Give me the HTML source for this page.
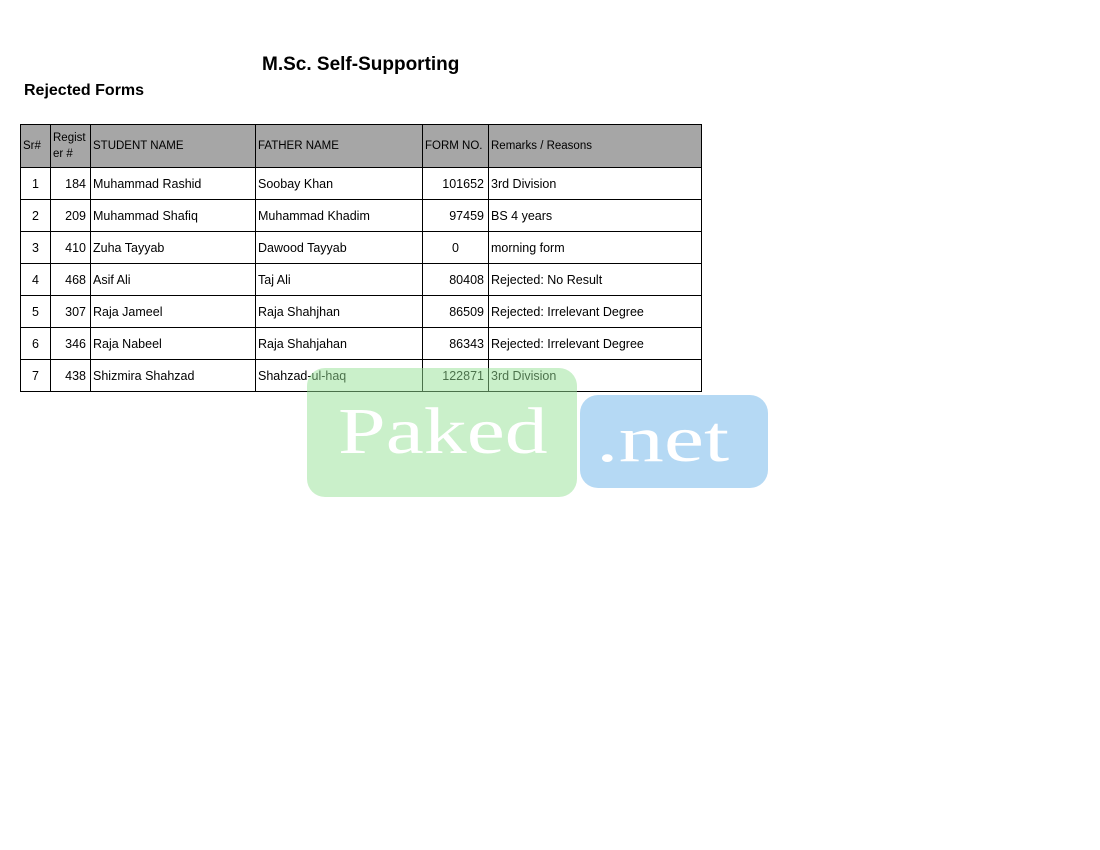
<!DOCTYPE html>
<html><head><style>
body{margin:0;width:1100px;height:850px;background:#fff;position:relative;font-family:"Liberation Sans",sans-serif;overflow:hidden}
.t{position:absolute;white-space:nowrap}
table{position:absolute;left:20px;top:124px;border-collapse:collapse;font-size:12.5px;color:#000}
td{border:1.5px solid #000;padding:0 2px;height:31px;white-space:nowrap}
tr.h td{background:#a6a6a6;height:42px;font-size:11.5px}
.r{text-align:right;padding-right:4px}
.c{text-align:center}
</style></head><body>
<div class="t" style="left:262px;top:54px;font-size:19px;font-weight:bold">M.Sc. Self-Supporting</div>
<div class="t" style="left:24px;top:82px;font-size:16px;font-weight:bold">Rejected Forms</div>
<table>
<colgroup><col style="width:30px"><col style="width:40px"><col style="width:165px"><col style="width:167px"><col style="width:66px"><col style="width:213px"></colgroup>
<tr class="h"><td>Sr#</td><td style="line-height:16px">Regist<br>er #</td><td>STUDENT NAME</td><td>FATHER NAME</td><td>FORM NO.</td><td>Remarks / Reasons</td></tr>
<tr><td class="c">1</td><td class="r">184</td><td>Muhammad Rashid</td><td>Soobay Khan</td><td class="r">101652</td><td>3rd Division</td></tr>
<tr><td class="c">2</td><td class="r">209</td><td>Muhammad Shafiq</td><td>Muhammad Khadim</td><td class="r">97459</td><td>BS 4 years</td></tr>
<tr><td class="c">3</td><td class="r">410</td><td>Zuha Tayyab</td><td>Dawood Tayyab</td><td class="c">0</td><td>morning form</td></tr>
<tr><td class="c">4</td><td class="r">468</td><td>Asif Ali</td><td>Taj Ali</td><td class="r">80408</td><td>Rejected: No Result</td></tr>
<tr><td class="c">5</td><td class="r">307</td><td>Raja Jameel</td><td>Raja Shahjhan</td><td class="r">86509</td><td>Rejected: Irrelevant Degree</td></tr>
<tr><td class="c">6</td><td class="r">346</td><td>Raja Nabeel</td><td>Raja Shahjahan</td><td class="r">86343</td><td>Rejected: Irrelevant Degree</td></tr>
<tr><td class="c">7</td><td class="r">438</td><td>Shizmira Shahzad</td><td>Shahzad-ul-haq</td><td class="r">122871</td><td>3rd Division</td></tr>
</table>
<div style="position:absolute;left:307px;top:368px;width:270px;height:129px;background:rgba(150,225,150,0.5);border-radius:18px"></div>
<div style="position:absolute;left:580px;top:395px;width:188px;height:93px;background:rgba(120,185,235,0.55);border-radius:18px"></div>
<div class="t" style="left:338px;top:392px;font-family:'Liberation Serif',serif;font-size:66px;color:#fff;line-height:80px;transform:scaleX(1.3);transform-origin:0 0">Paked</div>
<div class="t" style="left:596px;top:400px;font-family:'Liberation Serif',serif;font-size:66px;color:#fff;line-height:80px;transform:scaleX(1.37);transform-origin:0 0">.net</div>
</body></html>
